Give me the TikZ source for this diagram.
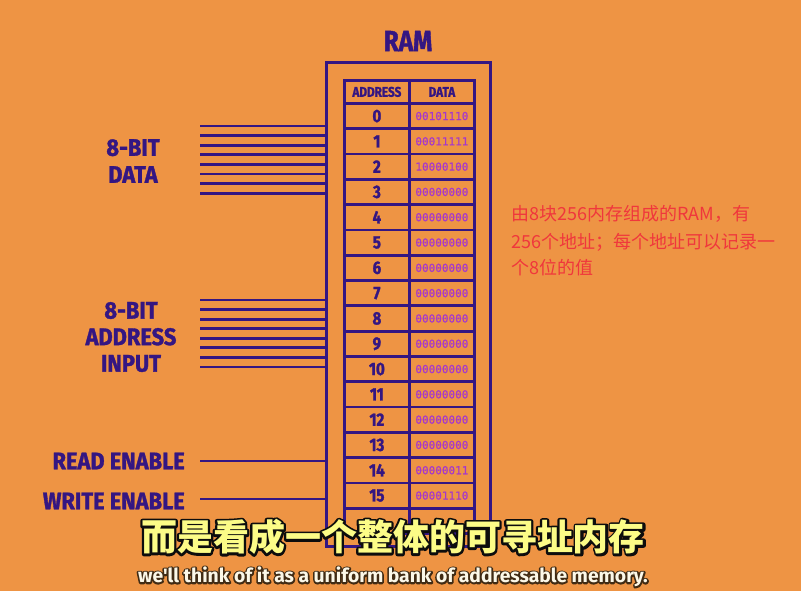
\documentclass[tikz,border=0pt]{standalone}
\usepackage{fontspec}
\newfontfamily\labfont[FakeStretch=0.91, FakeBold=1.4]{Fira Sans}
\newfontfamily\titlefont[FakeStretch=0.84, FakeBold=1.4]{Fira Sans}
\newfontfamily\valfont[FakeBold=0.7]{DejaVu Sans Mono}
\newfontfamily\cjk{Noto Sans CJK SC}
\newfontfamily\subfont{Fira Sans}
\definecolor{bgc}{RGB}{238,148,68}
\definecolor{ind}{RGB}{52,22,130}
\definecolor{valc}{RGB}{165,55,205}
\definecolor{redc}{RGB}{240,55,60}
\definecolor{yel}{RGB}{252,252,135}
\definecolor{cream}{RGB}{252,248,232}
\newcommand\outlined[3]{\rlap{\special{pdf:literal direct #1 w #3 RG 1 j 1 Tr}#2\special{pdf:literal direct 0 Tr}}#2}
\begin{document}
\begin{tikzpicture}[x=1pt,y=-1pt,
  wire/.style={draw=ind, line width=2.8pt},
  lab/.style={text=ind, font=\labfont\bfseries\fontsize{24}{27}\selectfont, align=center, inner sep=0pt},
  cell/.style={draw=ind, line width=2.8pt, minimum width=65pt, minimum height=25.3pt, inner sep=0pt, anchor=north west},
  numtxt/.style={text=ind, font=\titlefont\bfseries\fontsize{18}{19}\selectfont},
  valtxt/.style={text=valc, font=\valfont\fontsize{11}{12}\selectfont},
  hdtxt/.style={text=ind, font=\titlefont\bfseries\fontsize{14}{15}\selectfont},
  note/.style={text=redc, font=\cjk\fontsize{18}{20}\selectfont, anchor=west, inner sep=0pt}]
\fill[bgc] (0,0) rectangle (801,591);
\useasboundingbox (0,0) rectangle (801,591);
% RAM outer box
\node[draw=ind, line width=3pt, minimum width=164pt, minimum height=483pt, inner sep=0pt] (ram) at (408,304.5) {};
\node[text=ind, font=\titlefont\bfseries\fontsize{29}{30}\selectfont, inner sep=0pt] (title) at (408,41) {RAM};
% table header
\node[cell, minimum height=23pt, hdtxt] (ha) at (343,79) {ADDRESS};
\node[cell, minimum height=23pt, hdtxt] (hd) at (408,79) {DATA};
% rows
\foreach \i/\v in {0/00101110,1/00011111,2/10000100,3/00000000,4/00000000,5/00000000,6/00000000,7/00000000,8/00000000,9/00000000,10/00000000,11/00000000,12/00000000,13/00000000,14/00000011,15/00001110}{
  \node[cell, numtxt] (a\i) at (343,102+25.3*\i) {\i};
  \node[cell, valtxt] (v\i) at (408,102+25.3*\i) {\v};
}
\node[cell] (a16) at (343,102+25.3*16) {};
\node[cell] (v16) at (408,102+25.3*16) {};
% data wires
\foreach \k in {0,...,7}{
  \coordinate (d\k) at (200,126+9.6*\k);
  \draw[wire] (d\k) -- (d\k -| ram.west);
  \coordinate (ad\k) at (200,300+9.57*\k);
  \draw[wire] (ad\k) -- (ad\k -| ram.west);
}
\coordinate (re) at (200,461);
\coordinate (we) at (200,499);
\draw[wire] (re) -- (re -| ram.west);
\draw[wire] (we) -- (we -| ram.west);
% labels
\node[lab] (datalab) at (133,161) {8-BIT\\DATA};
\node[lab, font=\labfont\bfseries\fontsize{24}{26.5}\selectfont] (addrlab) at (131,337) {8-BIT\\ADDRESS\\INPUT};
\node[lab, anchor=east] (rlab) at (185,461) {READ ENABLE};
\node[lab, anchor=east] (wlab) at (185,501) {WRITE ENABLE};
% note
\node[note] (n1) at (511,214) {由8块256内存组成的RAM，有};
\node[note] (n2) at (511,242) {256个地址；每个地址可以记录一};
\node[note] (n3) at (511,268) {个8位的值};
% subtitles
\node[text=yel, font=\cjk\bfseries\fontsize{36}{38}\selectfont, inner sep=0pt] (sub) at (393,537) {\outlined{4.5}{而是看成一个整体的可寻址内存}{0.05 0.05 0.05}};
\node[text=cream, font=\subfont\bfseries\fontsize{19.3}{21}\selectfont, inner sep=0pt] (eng) at (393,577) {\outlined{3.2}{we'll think of it as a uniform bank of addressable memory.}{0.25 0.17 0.08}};
\end{tikzpicture}
\end{document}
